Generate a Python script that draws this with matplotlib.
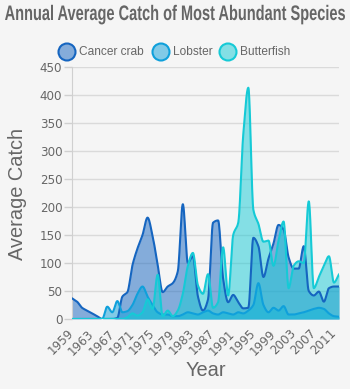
import numpy as np
import matplotlib
matplotlib.use('Agg')
import matplotlib.pyplot as plt
from matplotlib.patches import Ellipse, PathPatch
from matplotlib.textpath import TextPath
from matplotlib.font_manager import FontProperties
from matplotlib.transforms import Affine2D, IdentityTransform

# ---------- Data ----------
years = list(range(1959, 2013))
cancer_crab = [37, 31, 20, 15, 10, 5, 0, 0, 0, 2,
               40, 48, 96, 126, 150, 181, 148, 97, 48, 58,
               64, 85, 205, 100, 112, 40, 15, 35, 172, 176,
               72, 30, 43, 30, 19, 20, 145, 130, 75, 108,
               135, 168, 160, 110, 90, 90, 130, 50, 42, 49,
               31, 55, 58, 58]
lobster = [0, 0, 0, 0, 0, 0, 0, 22, 12, 32,
           12, 14, 25, 45, 58, 40, 25, 12, 8, 8,
           5, 5, 8, 12, 10, 8, 12, 15, 10, 8,
           12, 10, 8, 12, 10, 15, 25, 64, 25, 12,
           20, 15, 23, 8, 8, 10, 12, 15, 18, 20,
           18, 10, 5, 4]
butterfish = [0, 0, 0, 0, 0, 0, 0, 0, 0, 0,
              0, 3, 10, 6, 12, 35, 18, 79, 5, 15,
              5, 15, 45, 95, 118, 60, 45, 80, 20, 30,
              128, 42, 150, 172, 330, 413, 195, 170, 138, 140,
              95, 140, 174, 55, 95, 103, 100, 210, 55, 75,
              95, 112, 65, 80]

series_names = ['Cancer crab', 'Lobster', 'Butterfish']
series_colors = ['#1565C0', '#0FA0DB', '#15CAD6']
x_ticks = list(range(1959, 2013, 4))
y_ticks = list(range(0, 451, 50))
title = 'Annual Average Catch of Most Abundant Species'

BG = '#f5f5f5'
TXT = '#666666'
W, H = 350, 389


def monotone(x, y, xs):
    # monotone cubic (Fritsch-Carlson) for smooth curves without overshoot
    x = np.asarray(x, float)
    y = np.asarray(y, float)
    h = np.diff(x)
    d = np.diff(y) / h
    m = np.zeros_like(y)
    m[0], m[-1] = d[0], d[-1]
    for k in range(1, len(y) - 1):
        if d[k - 1] * d[k] <= 0:
            m[k] = 0.0
        else:
            w1 = 2 * h[k] + h[k - 1]
            w2 = h[k] + 2 * h[k - 1]
            m[k] = (w1 + w2) / (w1 / d[k - 1] + w2 / d[k])
    idx = np.clip(np.searchsorted(x, xs) - 1, 0, len(x) - 2)
    t = (xs - x[idx]) / h[idx]
    h00 = 2 * t**3 - 3 * t**2 + 1
    h10 = t**3 - 2 * t**2 + t
    h01 = -2 * t**3 + 3 * t**2
    h11 = t**3 - t**2
    return (h00 * y[idx] + h10 * h[idx] * m[idx]
            + h01 * y[idx + 1] + h11 * h[idx] * m[idx + 1])


fig = plt.figure(figsize=(W / 100, H / 100), dpi=100, facecolor=BG)
ax = fig.add_axes([72 / W, 1 - 319 / H, 267 / W, 252 / H])
ax.set_facecolor(BG)

xs = np.linspace(years[0], years[-1], 1200)
data = [cancer_crab, lobster, butterfish]
for vals, col in zip(data, series_colors):
    ys = np.clip(monotone(years, vals, xs), 0, None)
    ax.fill_between(xs, 0, ys, color=col, alpha=0.5, lw=0, zorder=2)
for vals, col in zip(data, series_colors):
    ys = np.clip(monotone(years, vals, xs), 0, None)
    ax.plot(xs, ys, color=col, lw=1.5, zorder=3, solid_capstyle='round')

ax.set_xlim(years[0], years[-1])
ax.set_ylim(0, 450)
ax.set_yticks(y_ticks)
ax.set_yticklabels([str(v) for v in y_ticks], fontsize=8.6, color=TXT)
ax.set_xticks(x_ticks)
ax.set_xticklabels([str(v) for v in x_ticks], fontsize=8.6, color=TXT,
                   rotation=45, ha='right', va='center', rotation_mode='anchor')
ax.tick_params(axis='y', length=6, width=1, color='#d0d0d0', pad=1)
ax.tick_params(axis='x', length=0, pad=9)
ax.grid(True, axis='y', color='#dadada', lw=1, zorder=1)
for s in ['top', 'right', 'bottom']:
    ax.spines[s].set_visible(False)
ax.spines['left'].set_color('#d0d0d0')
ax.axhline(0, color='#c8c8c8', lw=1, zorder=1)

# ---------- Title (condensed bold, squeezed to fit like the original) ----------
tp = TextPath((0, 0), title, size=21,
              prop=FontProperties(family='Liberation Sans', weight='bold'))
bb = tp.get_extents()
sx = 340 / bb.width
tr = Affine2D().translate(-bb.x0, 0).scale(sx, 1).translate(5, H - 20)
fig.add_artist(PathPatch(tr.transform_path(tp), transform=IdentityTransform(),
                         facecolor=TXT, edgecolor='none'))

fig.text(18 / W, 1 - 194 / H, 'Average Catch', rotation=90, ha='center',
         va='center', fontsize=14.4, color=TXT, family='Liberation Sans')
fig.text(206 / W, 1 - 370 / H, 'Year', ha='center', va='center',
         fontsize=14.4, color=TXT, family='Liberation Sans')

# ---------- Legend ----------
leg_x = [67, 161, 228]
for name, col, cx in zip(series_names, series_colors, leg_x):
    fig.add_artist(Ellipse((cx / W, 1 - 52 / H), 17 / W, 17 / H,
                           transform=fig.transFigure, facecolor=col, alpha=0.5,
                           edgecolor='none'))
    fig.add_artist(Ellipse((cx / W, 1 - 52 / H), 17 / W, 17 / H,
                           transform=fig.transFigure, facecolor='none',
                           edgecolor=col, lw=1.5))
    fig.text((cx + 12) / W, 1 - 52 / H, name, ha='left', va='center',
             fontsize=8.6, color=TXT, family='Liberation Sans')

fig.savefig('out.png', dpi=100, facecolor=BG)
